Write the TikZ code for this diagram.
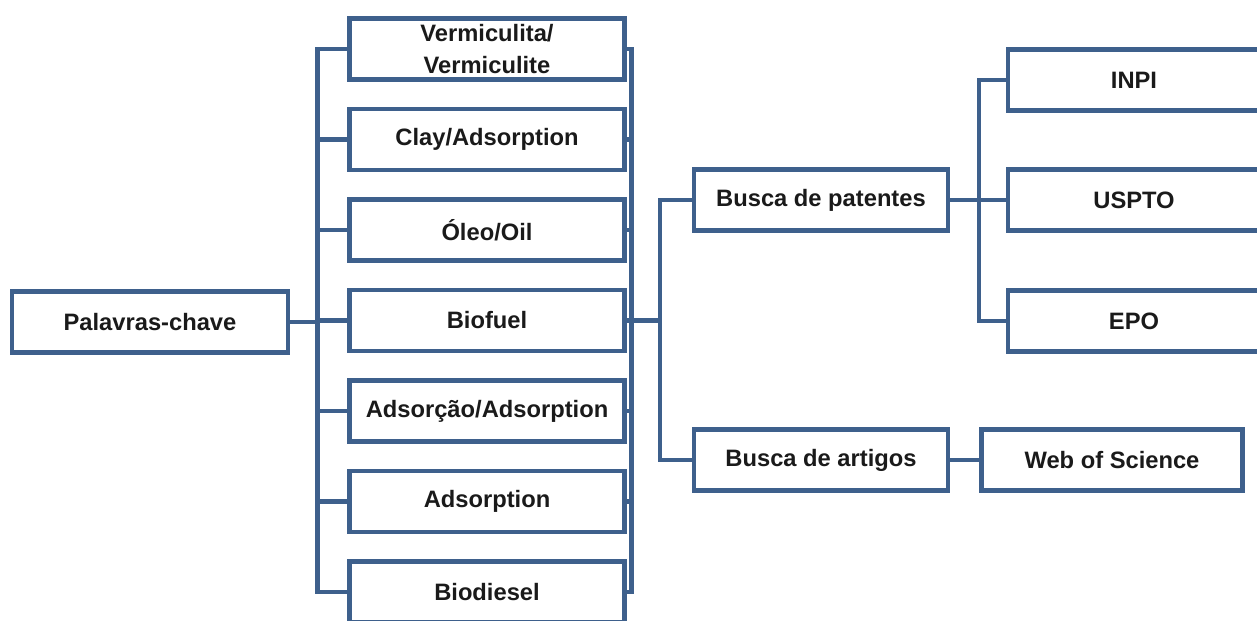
\documentclass[tikz,border=0pt]{standalone}
\usepackage{fontspec}
\setmainfont{Liberation Sans}
\definecolor{boxblue}{RGB}{62,96,140}
\definecolor{boxtext}{RGB}{26,26,26}
\tikzset{
  keybox/.style={draw=boxblue, line width=2.5pt, fill=white, text=boxtext,
    font=\fontsize{13.5}{18}\selectfont\bfseries, align=center,
    minimum width=5.5cm, minimum height=1.22cm, inner sep=0pt},
  link/.style={draw=boxblue, line width=2.5pt}
}
\begin{document}
\begin{tikzpicture}[x=0.02cm,y=-0.02cm]
  \clip (0,0) rectangle (1257,621);
  \fill[white] (0,0) rectangle (1257,621);
  % left column
  \node[keybox, minimum width=5.52cm] (pal) at (150,322) {Palavras-chave};
  % keywords
  \node[keybox] (k1) at (487,49) {Vermiculita/\\Vermiculite};
  \node[keybox] (k2) at (487,139.5) {Clay/Adsorption};
  \node[keybox] (k3) at (487,230) {Óleo/Oil};
  \node[keybox] (k4) at (487,320.5) {Biofuel};
  \node[keybox] (k5) at (487,411) {Adsorção/Adsorption};
  \node[keybox] (k6) at (487,501.5) {Adsorption};
  \node[keybox] (k7) at (487,592) {Biodiesel};
  % searches
  \node[keybox, minimum width=5.08cm] (pat) at (821,200) {Busca de patentes};
  \node[keybox, minimum width=5.08cm] (art) at (821,460) {Busca de artigos};
  \node[keybox, minimum width=5.22cm] (wos) at (1112,460) {Web of Science};
  % databases
  \node[keybox, minimum width=5.04cm] (inpi) at (1134,80) {INPI};
  \node[keybox, minimum width=5.04cm] (uspto) at (1134,200) {USPTO};
  \node[keybox, minimum width=5.04cm] (epo) at (1134,321) {EPO};
  % left bus
  \draw[link] (k1.west) -- ++(-30,0) |- (k7.west);
  \foreach \k in {k2,k3,k4,k5,k6} \draw[link] (\k.west) -- ++(-30,0);
  \draw[link] (pal.east) -- (pal.east -| 318,0);
  % right bus
  \draw[link] (k1.east) -- ++(5,0) |- (k7.east);
  \foreach \k in {k2,k3,k4,k5,k6} \draw[link] (\k.east) -- ++(5,0);
  \coordinate (jn) at (660,320.5);
  \draw[link] (k4.east) -- (jn);
  \draw[link] (pat.west) -| (jn) |- (art.west);
  % databases bus
  \draw[link] (pat.east) -- (uspto.west);
  \draw[link] (inpi.west) -- ++(-27,0) |- (epo.west);
  \draw[link] (art) -- (wos);
\end{tikzpicture}
\end{document}
